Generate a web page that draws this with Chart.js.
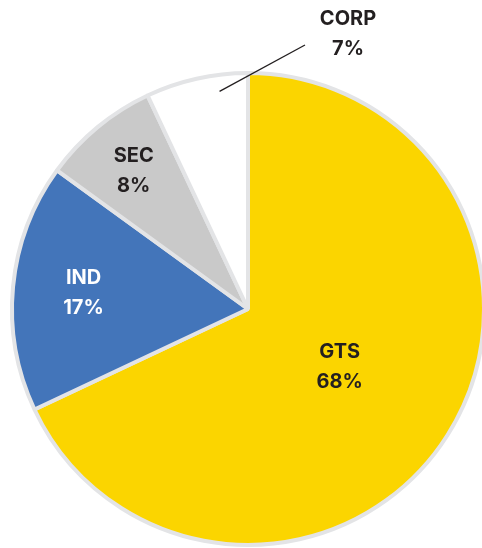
<!DOCTYPE html>
<html>
<head>
<meta charset="utf-8">
<script src="https://cdn.jsdelivr.net/npm/chart.js@4.4.0/dist/chart.umd.min.js"></script>
<style>
  html, body { margin: 0; padding: 0; background: #fff; }
  #wrap { width: 482px; height: 548px; position: relative; }
</style>
</head>
<body>
<div id="wrap"><canvas id="pie"></canvas></div>
<script>
var segments = ['GTS', 'IND', 'SEC', 'CORP'];
var shares = [68, 17, 8, 7];
var sliceColors = ['#fbd500', '#4375ba', '#c9c9c9', '#ffffff'];
var textColors = ['#231f20', '#ffffff', '#231f20', '#231f20'];
// how far out (fraction of radius) each inside label sits
var labelDepth = [0.46, 0.70, 0.76, null];

var labelPlugin = {
  id: 'sliceLabels',
  afterDraw: function (chart) {
    var ctx = chart.ctx;
    var arcs = chart.getDatasetMeta(0).data;
    ctx.save();
    ctx.font = '700 20px Inter, "DejaVu Sans", sans-serif';
    ctx.textAlign = 'center';
    ctx.textBaseline = 'middle';

    arcs.forEach(function (arc, i) {
      var p = arc.getProps(['x', 'y', 'startAngle', 'endAngle', 'outerRadius'], true);
      var mid = (p.startAngle + p.endAngle) / 2;
      var tx, ty;
      if (labelDepth[i] !== null) {
        tx = p.x + Math.cos(mid) * p.outerRadius * labelDepth[i];
        ty = p.y + Math.sin(mid) * p.outerRadius * labelDepth[i];
      } else {
        // outside label with a leader line
        var a = p.endAngle - 0.13;
        var sx = p.x + Math.cos(a) * p.outerRadius * 0.93;
        var sy = p.y + Math.sin(a) * p.outerRadius * 0.93;
        var ex = p.x + 57, ey = p.y - 264;
        ctx.strokeStyle = '#231f20';
        ctx.lineWidth = 1.3;
        ctx.beginPath();
        ctx.moveTo(sx, sy);
        ctx.lineTo(ex, ey);
        ctx.stroke();
        tx = p.x + 100;
        ty = p.y - 275;
      }
      ctx.fillStyle = textColors[i];
      ctx.fillText(segments[i], tx, ty - 15);
      ctx.fillText(shares[i] + '%', tx, ty + 15);
    });
    ctx.restore();
  }
};

new Chart(document.getElementById('pie'), {
  type: 'pie',
  data: {
    labels: segments,
    datasets: [{
      data: shares,
      backgroundColor: sliceColors,
      borderColor: '#e3e4e6',
      borderWidth: 4
    }]
  },
  options: {
    responsive: true,
    maintainAspectRatio: false,
    animation: false,
    radius: 236,
    layout: { padding: { top: 70, left: 14, right: 0, bottom: 0 } },
    plugins: {
      legend: { display: false },
      tooltip: { enabled: false }
    }
  },
  plugins: [labelPlugin]
});
</script>
</body>
</html>
